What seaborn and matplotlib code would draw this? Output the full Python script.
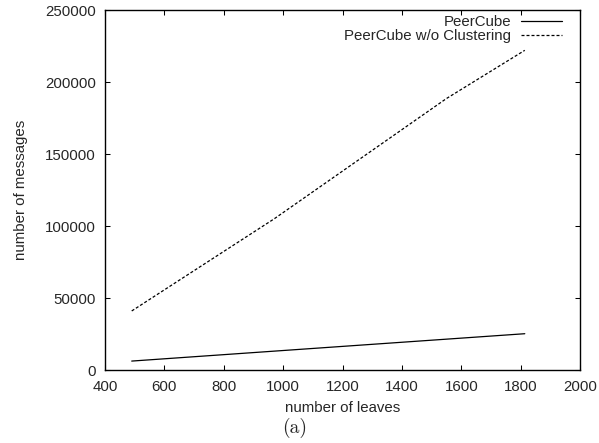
import matplotlib
matplotlib.use("Agg")
import matplotlib.pyplot as plt
import seaborn as sns
import pandas as pd

leaves_pc = [490, 970, 1814]
msgs_pc = [6200, 13100, 25200]
leaves_nc = [490, 970, 1550, 1814]
msgs_nc = [41000, 105000, 188500, 222000]
series_names = ["PeerCube", "PeerCube w/o Clustering"]
x_ticks = [400, 600, 800, 1000, 1200, 1400, 1600, 1800, 2000]
y_ticks = [0, 50000, 100000, 150000, 200000, 250000]

df = pd.DataFrame({
    "leaves": leaves_pc + leaves_nc,
    "messages": msgs_pc + msgs_nc,
    "series": [series_names[0]] * len(leaves_pc) + [series_names[1]] * len(leaves_nc),
})

sns.set_style("white")
plt.rcParams["font.family"] = ["Liberation Sans", "DejaVu Sans"]

W, H = 599, 443
fig = plt.figure(figsize=(W / 100, H / 100), dpi=100)
ax = fig.add_axes([105 / W, 1 - 370 / H, 475 / W, 360 / H])

sns.lineplot(data=df, x="leaves", y="messages", hue="series", style="series",
             palette=["black", "black"],
             dashes={series_names[0]: "", series_names[1]: (2.4, 1.6)},
             linewidth=0.9, ax=ax, legend=True)

fs = 10.8
ax.set_xlim(400, 2000)
ax.set_ylim(0, 250000)
ax.set_xticks(x_ticks)
ax.set_yticks(y_ticks)
ax.set_xticklabels([str(t) for t in x_ticks], fontsize=fs)
ax.set_yticklabels([str(t) for t in y_ticks], fontsize=fs)
ax.tick_params(direction="in", length=3.6, width=0.75, top=True, right=True,
               bottom=True, left=True, color="black")
ax.tick_params(axis="x", pad=7.5)
ax.tick_params(axis="y", pad=6.5)
for s in ax.spines.values():
    s.set_color("black")
    s.set_linewidth(1.0)
ax.set_xlabel("number of leaves", fontsize=fs, labelpad=5)
ax.set_ylabel("number of messages", fontsize=fs, labelpad=12)

handles, labels = ax.get_legend_handles_labels()
ax.legend(handles, labels, loc="upper right", frameon=False, markerfirst=False,
          fontsize=fs, handlelength=2.73, handletextpad=0.67, borderpad=0,
          borderaxespad=0, labelspacing=0.0,
          bbox_to_anchor=(562 / W, 1 - 15 / H), bbox_transform=fig.transFigure)

fig.text(295 / W, 1 - 428 / H, "(a)", fontsize=14, family="cmr10", ha="center", va="center")

fig.savefig("out.png", dpi=100)
